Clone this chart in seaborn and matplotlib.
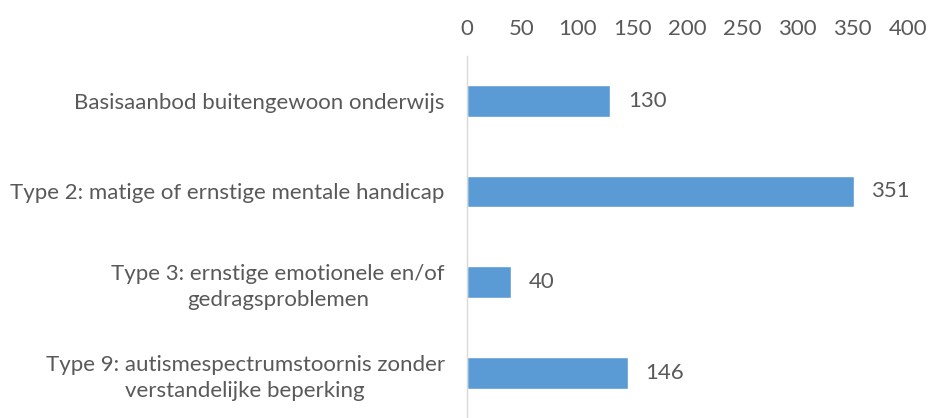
import matplotlib
matplotlib.use('Agg')
import matplotlib.pyplot as plt
import seaborn as sns
import pandas as pd

categories = [
    'Basisaanbod buitengewoon onderwijs',
    'Type 2: matige of ernstige mentale handicap',
    'Type 3: ernstige emotionele en/of\ngedragsproblemen',
    'Type 9: autismespectrumstoornis zonder\nverstandelijke beperking',
]
values = [130, 351, 40, 146]
x_ticks = [0, 50, 100, 150, 200, 250, 300, 350, 400]

df = pd.DataFrame({'category': categories, 'value': values})

sns.set_theme(style='white')
plt.rcParams['font.family'] = ['Lato', 'DejaVu Sans']
text_col = '#595959'
fs = 16

fig = plt.figure(figsize=(9.3, 4.18), dpi=100)
ax = fig.add_axes([0.502, 0.0, 0.474, 0.867])

sns.barplot(data=df, x='value', y='category', color='#5b9bd5', width=0.35,
            saturation=1, ax=ax)

for i, v in enumerate(values):
    ax.text(v + 16, i, str(v), va='center', ha='left', fontsize=fs, color=text_col)

ax.set_xlim(0, 400)
ax.set_xticks(x_ticks)
ax.xaxis.tick_top()
ax.tick_params(axis='x', length=0, labelsize=fs, colors=text_col, pad=12)
ax.tick_params(axis='y', length=0, labelsize=fs, colors=text_col, pad=16)
for lbl in ax.get_yticklabels():
    lbl.set_multialignment('center')
    lbl.set_linespacing(1.4)
ax.set_xlabel('')
ax.set_ylabel('')
for s in ['top', 'right', 'bottom']:
    ax.spines[s].set_visible(False)
ax.spines['left'].set_color('#d9d9d9')
ax.spines['left'].set_linewidth(1)

fig.savefig('out.png', dpi=100)
